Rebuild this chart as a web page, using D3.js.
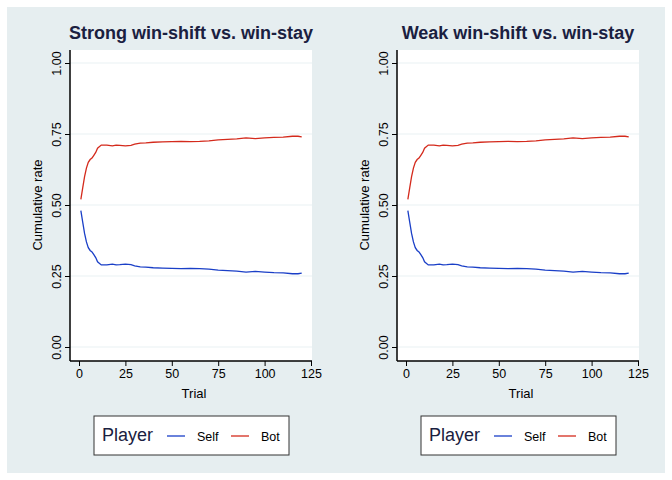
<!DOCTYPE html>
<html><head><meta charset="utf-8">
<script src="https://cdn.jsdelivr.net/npm/d3@7"></script>
<style>body{margin:0;background:#fff}svg{font-family:"Liberation Sans",Arial,sans-serif}</style>
</head><body><svg id="c" width="672" height="480"></svg>
<script>
// ── data ─────────────────────────────────────────────────────────────────────
const trials = [1, 2, 3, 4, 5, 6, 7, 8, 9, 10, 12, 15, 18, 20, 22, 25, 28, 30, 33, 36, 40, 45, 50, 55, 60, 65, 70, 75, 80, 85, 90, 95, 100, 105, 110, 115, 118, 120];
const selfRate = [0.48, 0.44, 0.40, 0.37, 0.35, 0.34, 0.335, 0.325, 0.315, 0.30, 0.289, 0.289, 0.292, 0.289, 0.29, 0.292, 0.29, 0.286, 0.282, 0.281, 0.279, 0.278, 0.277, 0.276, 0.277, 0.276, 0.274, 0.271, 0.269, 0.267, 0.264, 0.266, 0.264, 0.262, 0.261, 0.258, 0.258, 0.26];
const botRate = [0.52, 0.56, 0.60, 0.63, 0.65, 0.66, 0.665, 0.675, 0.685, 0.70, 0.711, 0.711, 0.708, 0.711, 0.71, 0.708, 0.71, 0.714, 0.718, 0.719, 0.721, 0.722, 0.723, 0.724, 0.723, 0.724, 0.726, 0.729, 0.731, 0.733, 0.736, 0.734, 0.736, 0.738, 0.739, 0.742, 0.742, 0.74];
const panels = ["Strong win-shift vs. win-stay", "Weak win-shift vs. win-stay"];
const yTicks = [0, 0.25, 0.5, 0.75, 1];
const xTicks = [0, 25, 50, 75, 100, 125];
const series = [
    { name: "Self", values: selfRate, color: "#1a3fc7" },
    { name: "Bot", values: botRate, color: "#d42a1c" },
];

const svg = d3.select("#c");
svg.append("rect").attr("x", 7).attr("y", 7).attr("width", 658).attr("height", 466).attr("fill", "#e6eef0");

panels.forEach((title, i) => {
    const ox = i * 327;
    const g = svg.append("g").attr("transform", `translate(${ox},0)`);
    const x = d3.scaleLinear().domain([0, 125]).range([79, 311]);
    const y = d3.scaleLinear().domain([0, 1]).range([347, 63]);

    g.append("rect").attr("x", 70).attr("y", 50).attr("width", 242).attr("height", 311).attr("fill", "#fff");
    g.selectAll(".grid").data(yTicks).join("line")
        .attr("x1", 70).attr("x2", 312).attr("y1", y).attr("y2", y)
        .attr("stroke", "#eaf2f3").attr("stroke-width", 1.2);

    g.append("text").attr("x", 191).attr("y", 39).attr("text-anchor", "middle")
        .attr("font-size", 18).attr("font-weight", "bold").attr("fill", "#1a2040").text(title);

    const xa = g.append("g").attr("transform", "translate(0,361)")
        .call(d3.axisBottom(x).tickValues(xTicks).tickSize(5).tickPadding(3));
    xa.select(".domain").attr("d", "M70,0H312");
    const ya = g.append("g").attr("transform", "translate(70,0)")
        .call(d3.axisLeft(y).tickValues(yTicks).tickFormat(d3.format(".2f")).tickSize(5).tickPadding(4));
    ya.select(".domain").attr("d", "M0,50V361");
    ya.selectAll(".tick text").attr("transform", "rotate(-90)").attr("text-anchor", "middle")
        .attr("x", 0).attr("y", -9).attr("dy", 0);
    g.selectAll(".tick text").attr("font-size", 12.5).attr("fill", "#000")
        .attr("font-family", "Liberation Sans, Arial, sans-serif");
    g.selectAll(".domain").attr("stroke", "#000").attr("stroke-width", 1.5);

    g.append("text").attr("x", 194).attr("y", 398).attr("text-anchor", "middle").attr("font-size", 13).text("Trial");
    g.append("text").attr("transform", "translate(42,205) rotate(-90)").attr("text-anchor", "middle")
        .attr("font-size", 13).text("Cumulative rate");

    const line = d3.line().x((d, j) => x(trials[j])).y(d => y(d));
    series.forEach(s => {
        g.append("path").attr("d", line(s.values)).attr("fill", "none")
            .attr("stroke", s.color).attr("stroke-width", 1.3);
    });

    // legend
    const lg = g.append("g").attr("transform", "translate(94,416)");
    lg.append("rect").attr("width", 195).attr("height", 39).attr("fill", "#fff")
        .attr("stroke", "#333").attr("stroke-width", 1);
    lg.append("text").attr("x", 8).attr("y", 25).attr("font-size", 18).attr("fill", "#1a2040").text("Player");
    series.forEach((s, k) => {
        const lx = 73 + k * 64;
        lg.append("line").attr("x1", lx).attr("x2", lx + 18).attr("y1", 20).attr("y2", 20)
            .attr("stroke", s.color).attr("stroke-width", 1.3);
        lg.append("text").attr("x", lx + 30).attr("y", 25).attr("font-size", 12.5).text(s.name);
    });
});
</script></body></html>
